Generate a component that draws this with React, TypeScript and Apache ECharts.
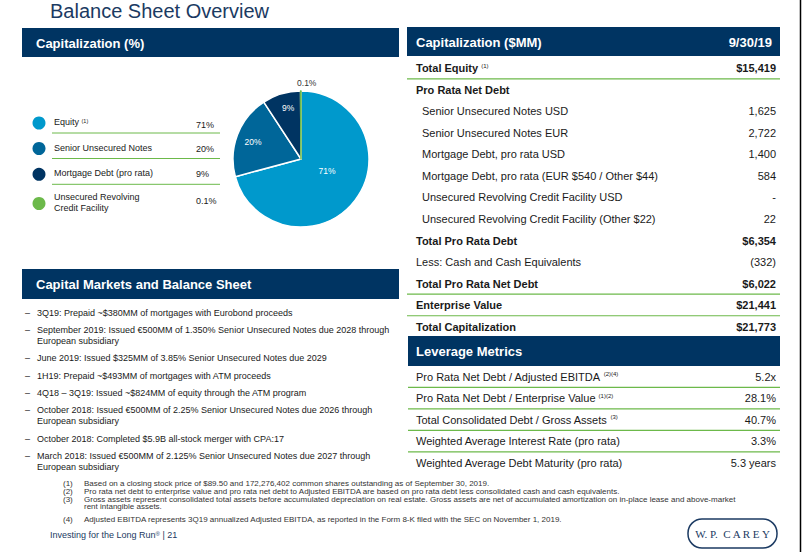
import React, { useEffect, useRef } from "react";
import * as echarts from "echarts";

// ---------------- data ----------------
const pageTitle = "Balance Sheet Overview";
const headerCapPct = "Capitalization (%)";
const headerCapMM = "Capitalization ($MM)";
const headerDate = "9/30/19";
const headerMarkets = "Capital Markets and Balance Sheet";
const headerLeverage = "Leverage Metrics";

const pieCategories = ["Equity", "Senior Unsecured Notes", "Mortgage Debt (pro rata)", "Unsecured Revolving Credit Facility"];
const pieValues = [15419, 4347, 1984, 22];
const pieLabels = ["71%", "20%", "9%", "0.1%"];
const legendLines = [["Equity"], ["Senior Unsecured Notes"], ["Mortgage Debt (pro rata)"], ["Unsecured Revolving", "Credit Facility"]];
const legendNotes = ["(1)", "", "", ""];

const capLabels = [
  "Total Equity",
  "Pro Rata Net Debt",
  "Senior Unsecured Notes USD",
  "Senior Unsecured Notes EUR",
  "Mortgage Debt, pro rata USD",
  "Mortgage Debt, pro rata (EUR $540 / Other $44)",
  "Unsecured Revolving Credit Facility USD",
  "Unsecured Revolving Credit Facility (Other $22)",
  "Total Pro Rata Debt",
  "Less: Cash and Cash Equivalents",
  "Total Pro Rata Net Debt",
  "Enterprise Value",
  "Total Capitalization",
];
const capValues = ["$15,419", "", "1,625", "2,722", "1,400", "584", "-", "22", "$6,354", "(332)", "$6,022", "$21,441", "$21,773"];
const capNotes = ["(1)", "", "", "", "", "", "", "", "", "", "", "", ""];

const leverageLabels = [
  "Pro Rata Net Debt / Adjusted EBITDA",
  "Pro Rata Net Debt / Enterprise Value",
  "Total Consolidated Debt / Gross Assets",
  "Weighted Average Interest Rate (pro rata)",
  "Weighted Average Debt Maturity (pro rata)",
];
const leverageValues = ["5.2x", "28.1%", "40.7%", "3.3%", "5.3 years"];
const leverageNotes = ["(2)(4)", "(1)(2)", "(3)", "", ""];

const bulletLines = [
  ["3Q19: Prepaid ~$380MM of mortgages with Eurobond proceeds"],
  ["September 2019: Issued €500MM of 1.350% Senior Unsecured Notes due 2028 through", "European subsidiary"],
  ["June 2019: Issued $325MM of 3.85% Senior Unsecured Notes due 2029"],
  ["1H19: Prepaid ~$493MM of mortgages with ATM proceeds"],
  ["4Q18 – 3Q19: Issued ~$824MM of equity through the ATM program"],
  ["October 2018: Issued €500MM of 2.25% Senior Unsecured Notes due 2026 through", "European subsidiary"],
  ["October 2018: Completed $5.9B all-stock merger with CPA:17"],
  ["March 2018: Issued €500MM of 2.125% Senior Unsecured Notes due 2027 through", "European subsidiary"],
];

const footnoteNums = ["(1)", "(2)", "(3)", "", "(4)"];
const footnoteLines = [
  "Based on a closing stock price of $89.50 and 172,276,402 common shares outstanding as of September 30, 2019.",
  "Pro rata net debt to enterprise value and pro rata net debt to Adjusted EBITDA are based on pro rata debt less consolidated cash and cash equivalents.",
  "Gross assets represent consolidated total assets before accumulated depreciation on real estate. Gross assets are net of accumulated amortization on in-place lease and above-market",
  "rent intangible assets.",
  "Adjusted EBITDA represents 3Q19 annualized Adjusted EBITDA, as reported in the Form 8-K filed with the SEC on November 1, 2019.",
];
const footerText = "Investing for the Long Run";
const footerPage = " | 21";
const logoText = "W. P.  C A R E Y";

// ---------------- styles ----------------
const NAVY = "#003462";
const TITLE = "#1b3a62";
const GREEN = "#6cb94a";
const TEXT = "#1a1a1a";
const FONT = "'Liberation Sans', Arial, Helvetica, sans-serif";
const pieColors = ["#0099cc", "#006699", "#003462", "#6cb94a"];
const capBold = [true, true, false, false, false, false, false, false, true, false, true, true, true];
const capIndent = [false, false, true, true, true, true, true, true, false, false, false, false, false];
const capLineAfter = [0, 10, 11];
const labelAngleShift = [-13, -1.4, 2.5, 4.5];
const labelRadiusFrac = [0.42, 0.75, 0.77, 1.12];

const PIE_CX = 301;
const PIE_CY = 159;
const PIE_R = 68;

function supRich(size: number, fill: string) {
  return { sup: { fontSize: size, fontFamily: FONT, fill, fontWeight: "normal", verticalAlign: "top" } };
}

function txt(x: number, y: number, text: string, o: any = {}) {
  const align = o.align ?? "left";
  return {
    type: "text",
    x,
    y,
    silent: true,
    style: {
      text,
      fill: o.fill ?? TEXT,
      fontSize: o.size ?? 11,
      fontWeight: o.weight ?? "normal",
      fontFamily: o.family ?? FONT,
      align,
      textAlign: align,
      verticalAlign: "middle",
      textVerticalAlign: "middle",
      ...(o.rich ? { rich: o.rich } : {}),
    },
  };
}

function hline(x1: number, x2: number, y: number, color: string, w = 1) {
  return { type: "line", silent: true, shape: { x1, y1: y, x2, y2: y }, style: { stroke: color, lineWidth: w } };
}

function bar(x: number, y: number, w: number, h: number) {
  return { type: "rect", silent: true, shape: { x, y, width: w, height: h }, style: { fill: NAVY } };
}

function buildGraphics() {
  const g: any[] = [];
  // title
  g.push(txt(50, 11, pageTitle, { size: 20, fill: TITLE }));

  // header bars
  g.push(bar(22, 28, 377, 29));
  g.push(txt(36, 43, headerCapPct, { size: 13, weight: "bold", fill: "#fff" }));
  g.push(bar(407, 27, 373, 29));
  g.push(txt(416, 42, headerCapMM, { size: 13, weight: "bold", fill: "#fff" }));
  g.push(txt(772, 42, headerDate, { size: 13, weight: "bold", fill: "#fff", align: "right" }));
  g.push(bar(22, 269, 377, 30));
  g.push(txt(36, 284, headerMarkets, { size: 13, weight: "bold", fill: "#fff" }));
  g.push(bar(408, 336, 372, 30));
  g.push(txt(416, 351, headerLeverage, { size: 13, weight: "bold", fill: "#fff" }));

  // legend
  const legY = [122, 147.5, 173.3, 202.5];
  const legValY = [125, 149, 173.5, 200.5];
  pieCategories.forEach((_, i) => {
    g.push({ type: "circle", silent: true, shape: { cx: 39, cy: legY[i] + 1, r: 6.5 }, style: { fill: pieColors[i] } });
    const lines = legendLines[i];
    lines.forEach((ln, j) => {
      const y = lines.length > 1 ? legY[i] - 6 + j * 11.6 : legY[i];
      const note = j === 0 && legendNotes[i] ? " {sup|" + legendNotes[i] + "}" : "";
      g.push(txt(54, y, ln + note, { size: 9, rich: note ? supRich(5.5, TEXT) : undefined }));
    });
    g.push(txt(196, legValY[i], pieLabels[i], { size: 9 }));
    if (i < 3) g.push(hline(52, 220, legY[i] + 11, GREEN, 1));
  });

  // capitalization table
  capLabels.forEach((lab, i) => {
    const y = 68.3 + i * 21.53;
    const note = capNotes[i] ? " {sup|" + capNotes[i] + "}" : "";
    g.push(
      txt(capIndent[i] ? 422 : 416, y, lab + note, {
        size: 11,
        weight: capBold[i] ? "bold" : "normal",
        rich: note ? supRich(6, TEXT) : undefined,
      })
    );
    if (capValues[i]) g.push(txt(776, y, capValues[i], { size: 11, weight: capBold[i] ? "bold" : "normal", align: "right" }));
    if (capLineAfter.indexOf(i) >= 0) g.push(hline(407, 780, y + 10.6, GREEN, 1.2));
  });

  // leverage table
  leverageLabels.forEach((lab, i) => {
    const y = 376.7 + i * 21.5;
    const note = leverageNotes[i] ? " {sup|" + leverageNotes[i] + "}" : "";
    g.push(txt(416, y, lab + note, { size: 11, rich: note ? supRich(6, TEXT) : undefined }));
    g.push(txt(776, y, leverageValues[i], { size: 11, align: "right" }));
    if (i < leverageLabels.length - 1) g.push(hline(408, 780, y + 10.7, GREEN, 1.2));
  });

  // bullets
  let by = 312.5;
  bulletLines.forEach((lines) => {
    g.push(txt(25, by, "–", { size: 9 }));
    lines.forEach((ln, j) => {
      g.push(txt(37, by + j * 10.8, ln, { size: 9 }));
    });
    by += (lines.length - 1) * 10.8 + 17.4;
  });

  // footnotes
  const fy = [483.5, 491.3, 499.1, 506.9, 519];
  footnoteLines.forEach((ln, i) => {
    if (footnoteNums[i]) g.push(txt(63, fy[i], footnoteNums[i], { size: 8, fill: "#333" }));
    g.push(txt(84, fy[i], ln, { size: 8, fill: "#333" }));
  });
  g.push(
    txt(50, 535, footerText + "{sup|®}" + footerPage, {
      size: 9,
      fill: TITLE,
      rich: supRich(6, TITLE),
    })
  );

  // logo
  g.push({
    type: "rect",
    silent: true,
    shape: { x: 688, y: 519, width: 89, height: 29, r: 14 },
    style: { fill: "none", stroke: "#1b3a62", lineWidth: 1.5 },
  });
  g.push(txt(732.5, 534, logoText, { size: 11, fill: "#1b3a62", align: "center", family: "'Liberation Serif', 'DejaVu Serif', serif" }));

  // right border line
  g.push({ type: "line", silent: true, shape: { x1: 800.5, y1: 0, x2: 800.5, y2: 552 }, style: { stroke: "#000", lineWidth: 1.5 } });
  return g;
}

export default function App() {
  const ref = useRef<HTMLDivElement>(null);
  useEffect(() => {
    if (!ref.current) return;
    const chart = echarts.init(ref.current, undefined, { renderer: "svg" });
    const total = pieValues.reduce((a, b) => a + b, 0);
    let acc = 0;
    const mids = pieValues.map((v) => {
      const m = acc + v / 2;
      acc += v;
      return (m / total) * 360;
    });
    chart.setOption({
      animation: false,
      backgroundColor: "#ffffff",
      graphic: { elements: buildGraphics() },
      series: [
        {
          type: "pie",
          center: [PIE_CX, PIE_CY],
          radius: PIE_R,
          startAngle: 90,
          clockwise: true,
          avoidLabelOverlap: false,
          silent: true,
          data: pieValues.map((v, i) => ({
            value: v,
            name: pieCategories[i],
            itemStyle: {
              color: pieColors[i],
              borderColor: i === 3 ? pieColors[3] : "#ffffff",
              borderWidth: 1.5,
            },
            label: i === 3 ? { position: "outside", color: "#333", fontSize: 8.5 } : undefined,
            labelLine: { show: false },
          })),
          label: {
            show: true,
            position: "inside",
            formatter: (p: any) => pieLabels[p.dataIndex],
            color: "#ffffff",
            fontSize: 8.5,
            fontFamily: FONT,
          },
          labelLine: { show: false },
          labelLayout: (params: any) => {
            const i = params.dataIndex;
            const a = ((mids[i] + labelAngleShift[i]) * Math.PI) / 180;
            const rr = labelRadiusFrac[i] * PIE_R;
            return {
              x: PIE_CX + rr * Math.sin(a),
              y: PIE_CY - rr * Math.cos(a),
              align: "center",
              verticalAlign: "middle",
            };
          },
        },
      ],
    });
    return () => chart.dispose();
  }, []);
  return (
    <div
      ref={ref}
      style={{ position: "fixed", left: 0, top: 0, width: 803, height: 552, background: "#fff" }}
    />
  );
}
